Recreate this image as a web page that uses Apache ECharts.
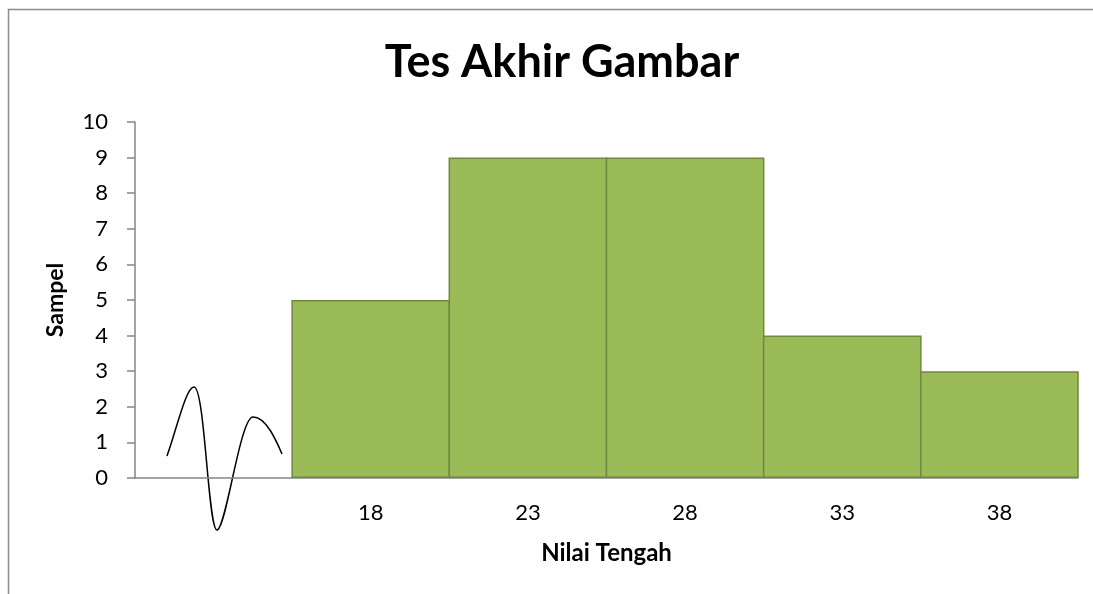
<!DOCTYPE html>
<html>
<head>
<meta charset="utf-8">
<script src="https://cdn.jsdelivr.net/npm/echarts@6/dist/echarts.min.js"></script>
<style>
html,body{margin:0;padding:0;background:#fff;}
#c{width:1093px;height:594px;}
</style>
</head>
<body>
<div id="c"></div>
<script>
const categories = ['', '18', '23', '28', '33', '38'];
const sampel = [null, 5, 9, 9, 4, 3];
const yTicks = [0, 10, 1];

const FONT = 'Lato, "Open Sans", sans-serif';
const chart = echarts.init(document.getElementById('c'), null, {renderer: 'canvas'});

function bez(x1, y1, cx1, cy1, cx2, cy2, x2, y2) {
  return {type: 'bezierCurve', silent: true,
    shape: {x1: x1, y1: y1, cpx1: cx1, cpy1: cy1, cpx2: cx2, cpy2: cy2, x2: x2, y2: y2},
    style: {fill: null, stroke: '#000', lineWidth: 1.5}};
}

chart.setOption({
  animation: false,
  backgroundColor: '#fff',
  title: {
    text: 'Tes Akhir Gambar',
    left: 557, top: 35, textAlign: 'center',
    textStyle: {fontFamily: FONT, fontSize: 45, fontWeight: 'bold', color: '#000'}
  },
  grid: {left: 135, right: 15, top: 122, bottom: 116},
  xAxis: {
    type: 'category',
    data: categories,
    name: 'Nilai Tengah',
    nameLocation: 'middle',
    nameGap: 63,
    nameTextStyle: {fontFamily: FONT, fontSize: 24, fontWeight: 'bold', color: '#000'},
    axisLine: {lineStyle: {color: '#868686', width: 1.5}},
    axisTick: {show: false},
    axisLabel: {fontFamily: FONT, fontSize: 22, color: '#000', margin: 24}
  },
  yAxis: {
    type: 'value',
    min: yTicks[0], max: yTicks[1], interval: yTicks[2],
    name: 'Sampel',
    nameLocation: 'middle',
    nameGap: 68,
    nameTextStyle: {fontFamily: FONT, fontSize: 23, fontWeight: 'bold', color: '#000'},
    axisLine: {show: true, lineStyle: {color: '#868686', width: 1.5}},
    axisTick: {show: true, length: 8, lineStyle: {color: '#868686', width: 1.5}},
    splitLine: {show: false},
    axisLabel: {fontFamily: FONT, fontSize: 22, color: '#000', margin: 27}
  },
  series: [{
    type: 'bar',
    data: sampel,
    barWidth: '101%',
    barCategoryGap: '0%',
    itemStyle: {color: '#9BBB59', borderColor: '#71893F', borderWidth: 1.5}
  }],
  graphic: [
    {type: 'rect', silent: true, shape: {x: 8.5, y: 9.5, width: 1200, height: 700}, style: {fill: null, stroke: '#8c8c8c', lineWidth: 1.5}},
    bez(167, 456, 177, 428, 186, 387, 194, 387),
    bez(194, 387, 205, 387, 208, 530, 217, 530),
    bez(217, 530, 226, 530, 240, 417, 253, 417),
    bez(253, 417, 266, 417, 276, 440, 282, 454)
  ]
});
</script>
</body>
</html>
